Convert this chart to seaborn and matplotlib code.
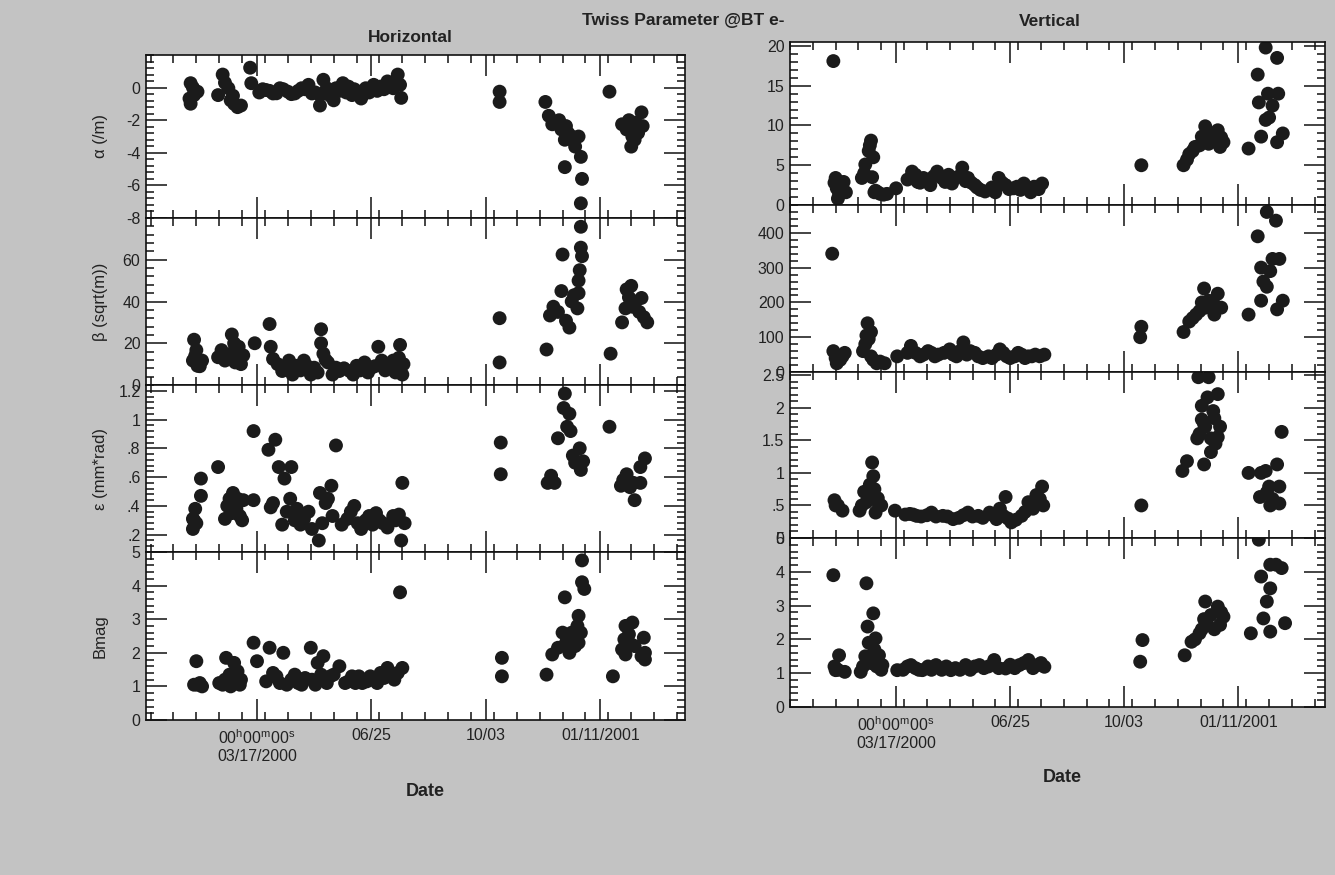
import matplotlib
matplotlib.use("Agg")
import numpy as np
import pandas as pd
import matplotlib.pyplot as plt
import matplotlib.dates as mdates
from matplotlib.ticker import FixedLocator, FixedFormatter, MultipleLocator
import seaborn as sns

# ---------------- data (days after 03/17/2000, value) ----------------
BASE_DATE = "2000-03-17"

h_alpha_day = [-58, -59, -52, -58, -55, -30, -34, -25, -23, -17, -20, -14, -6, -5,
               8, 14, 20, 27, 33, 39, 45, 48, 55, 55, 58, 61, 67, 69, 75,
               80, 83, 88, 91, 95, 102, 108, 114, 119, 123, 125, 126,
               212, 212, 252, 255, 258, 266, 270, 269, 275, 278, 281, 283, 269, 284, 283,
               308, 319, 323, 328, 327, 331, 336, 337, 333,
               2, 5, 11, 17, 23, 30, 36, 42, 51, 64, 72, 78, 85, 98, 105, 111, 117, 121,
               -56, -28, -21, 272, 277, 264, 330, 325, 334]
h_alpha_val = [0.27, -0.67, -0.25, -0.99, -0.46, 0.8, -0.46, -0.04, -0.78, -1.2, -1.0, -1.1, 1.22, 0.27,
               -0.15, -0.36, -0.04, -0.25, -0.36, -0.04, 0.17, -0.36, -1.1, -0.46, 0.48, -0.04, -0.78, -0.04, 0.27,
               0.06, -0.46, -0.25, -0.67, -0.04, 0.17, 0.06, 0.38, -0.04, 0.8, 0.17, -0.63,
               -0.25, -0.88, -0.88, -1.73, -2.25, -2.57, -2.36, -3.2, -3.0, -3.62, -3.0, -4.25, -4.88, -5.6, -7.1,
               -0.25, -2.25, -2.57, -3.0, -3.62, -2.15, -1.52, -2.36, -2.78,
               -0.3, -0.1, -0.2, -0.35, -0.1, -0.4, -0.2, -0.1, -0.3, -0.5, -0.2, -0.3, -0.1, -0.3, -0.2, -0.1, 0.1, 0.4,
               0.0, 0.3, -0.5, -2.8, -3.3, -2.0, -3.2, -2.0, -2.5]

h_beta_day = [-55, -53, -56, -52, -48, -31, -34, -22, -23, -16, -28, -19, -12, -2, 11, 12, 14,
              22, 28, 34, 41, 47, 50, 56, 56, 58, 62, 69, 72, 81, 87, 94, 100, 106, 109, 116, 119, 125, 127, 128,
              212, 212, 253, 256, 259, 267, 266, 270, 273, 275, 280, 281, 281, 283, 283, 284,
              309, 319, 322, 327, 323, 331, 336, 338, 341, 328,
              18, 25, 31, 38, 44, 53, 60, 66, 76, 84, 90, 97, 103, 112, 121, 124,
              -54, -50, -26, -20, -14, 263, 277, 282, 325, 334]
h_beta_val = [21.7, 16.7, 11.7, 9.2, 11.7, 16.7, 13.3, 24.2, 15, 18.3, 11.7, 10.8, 14.2, 20, 29.2, 18.3, 12.5,
              6.7, 11.7, 9.2, 11.7, 5, 8.3, 26.7, 20, 15, 10.8, 8.3, 6.7, 6.7, 9.2, 10.8, 8.3, 18.3, 11.7, 9.2, 11.7, 19.2, 5, 10,
              32, 10.8, 17, 33.3, 37.5, 62.5, 45, 30.8, 27.5, 40, 36.7, 50, 44, 75.8, 65.8, 61.7,
              15, 30, 36.7, 47.5, 45.8, 40, 41.7, 32.5, 30, 37.5,
              10, 8, 5, 7, 9, 6, 12, 5, 8, 5, 7, 6, 9, 7, 6, 13,
              14, 9, 13, 20, 10, 35, 43, 55, 42, 35]

h_emit_day = [-56, -56, -54, -53, -49, -49, -34, -28, -24, -21, -18, -15, -12, -3, -3,
              10, 16, 12, 19, 30, 24, 22, 29, 35, 41, 48, 54, 55, 65, 62, 69, 66,
              79, 85, 91, 98, 104, 110, 119, 124, 129, 127, 126,
              213, 213, 254, 257, 260, 269, 268, 273, 263, 274, 276, 282, 285, 283,
              308, 318, 323, 329, 330, 335, 335, 339,
              -55, -26, -22, -17, -13, 14, 26, 33, 38, 45, 57, 60, 74, 82, 88, 95, 101, 107, 114, 121,
              271, 278, 320, 326]
h_emit_val = [0.24, 0.31, 0.38, 0.28, 0.59, 0.47, 0.67, 0.31, 0.45, 0.49, 0.38, 0.33, 0.44, 0.92, 0.44,
              0.79, 0.86, 0.39, 0.67, 0.67, 0.59, 0.27, 0.45, 0.38, 0.31, 0.24, 0.16, 0.49, 0.54, 0.45, 0.82, 0.33,
              0.31, 0.40, 0.24, 0.33, 0.35, 0.28, 0.33, 0.34, 0.28, 0.56, 0.16,
              0.84, 0.62, 0.56, 0.61, 0.56, 1.18, 1.08, 1.04, 0.87, 0.92, 0.75, 0.80, 0.71, 0.65,
              0.95, 0.54, 0.62, 0.56, 0.44, 0.56, 0.67, 0.73,
              0.30, 0.40, 0.35, 0.45, 0.30, 0.42, 0.36, 0.30, 0.27, 0.36, 0.28, 0.42, 0.27, 0.36, 0.28, 0.30, 0.27, 0.30, 0.25, 0.30,
              0.95, 0.70, 0.58, 0.53]

h_bmag_day = [-53, -55, -48, -50, -33, -28, -27, -20, -17, -14, -23, -3, 0,
              11, 23, 14, 20, 30, 39, 47, 58, 53, 72, 48, 64, 77, 83, 92, 102, 108, 114, 120, 125, 127,
              214, 214, 253, 258, 263, 267, 269, 273, 277, 280, 281, 281, 284, 284, 286,
              311, 319, 322, 325, 322, 328, 327, 338, 339, 339,
              -52, -30, -24, -19, -15, 8, 17, 26, 33, 36, 42, 51, 56, 61, 67, 80, 86, 89, 96, 99,
              105, 111, 117, 123, 270, 275, 278, 283, 321, 330, 336]
h_bmag_val = [1.75, 1.05, 1.0, 1.1, 1.1, 1.2, 1.85, 1.7, 1.45, 1.2, 1.0, 2.3, 1.75,
              2.15, 2.0, 1.4, 1.1, 1.2, 1.05, 2.15, 1.9, 1.7, 1.6, 1.2, 1.3, 1.1, 1.3, 1.1, 1.2, 1.4, 1.55, 1.2, 3.8, 1.55,
              1.85, 1.3, 1.35, 1.95, 2.15, 2.6, 3.65, 2.0, 2.4, 2.8, 3.1, 2.3, 4.1, 4.75, 3.9,
              1.3, 2.1, 1.95, 2.55, 2.8, 2.9, 2.25, 2.45, 2.0, 1.8,
              1.05, 1.05, 1.35, 1.25, 1.05, 1.15, 1.3, 1.05, 1.35, 1.1, 1.25, 1.05, 1.35, 1.1, 1.35, 1.15, 1.1, 1.3, 1.15, 1.3,
              1.1, 1.25, 1.35, 1.4, 2.3, 2.6, 2.2, 2.6, 2.4, 2.2, 1.9]

v_alpha_day = [-55, -53, -52, -51, -46, -44, -30, -27, -24, -22, -20, -19, -14, -8, 0,
               14, 19, 24, 30, 36, 43, 52, 58, 63, 69, 74, 87, 90, 96, 103, 112, 118, 128,
               215, 252, 257, 262, 268, 271, 274, 282, 287, 284,
               309, 317, 318, 320, 324, 324, 334, 326, 335, 334, 339,
               -54, -50, -28, -23, -21, -18, -16, -11, 10, 17, 21, 27, 33, 40, 46, 49, 55, 61, 66, 71,
               78, 84, 93, 99, 106, 109, 115, 121, 125, 255, 260, 266, 276, 279, 285, 330, 327]
v_alpha_val = [18.1, 3.4, 2.1, 0.8, 2.9, 1.6, 3.4, 5.1, 6.8, 8.1, 6.0, 1.6, 1.4, 1.4, 2.1,
               4.2, 2.9, 3.4, 2.5, 4.2, 2.9, 3.4, 4.7, 3.4, 2.5, 1.9, 1.6, 3.4, 2.5, 2.1, 2.7, 1.6, 2.7,
               5.0, 5.0, 6.4, 7.3, 8.6, 9.9, 7.7, 9.4, 7.9, 7.3,
               7.1, 16.4, 12.9, 8.6, 10.7, 19.8, 18.5, 14.0, 14.0, 7.9, 9.0,
               2.8, 1.5, 4.0, 7.5, 3.5, 1.8, 1.6, 1.3, 3.2, 3.8, 2.8, 3.0, 3.6, 3.4, 3.8, 2.7, 3.6, 3.0, 2.8, 2.2,
               1.7, 2.2, 2.8, 2.0, 2.3, 1.9, 2.2, 2.3, 2.0, 5.7, 6.8, 7.5, 8.8, 8.2, 8.5, 12.5, 11.0]

v_beta_day = [-56, -55, -52, -47, -45, -29, -26, -25, -22, -22, -17, -10, 1,
              13, 21, 28, 37, 47, 53, 59, 65, 72, 84, 91, 97, 107, 116, 122, 130,
              215, 214, 252, 257, 263, 270, 271, 274, 282, 285, 279,
              309, 317, 320, 320, 325, 325, 333, 330, 336, 334, 339,
              -53, -49, -27, -24, -20, -14, 10, 17, 24, 31, 34, 42, 50, 56, 62, 69, 76, 81, 88, 94,
              100, 104, 110, 113, 119, 126, 260, 266, 268, 277, 280, 328, 322]
v_beta_val = [340, 60, 25, 45, 55, 60, 105, 140, 115, 45, 25, 25, 45,
              75, 45, 60, 50, 65, 45, 85, 60, 45, 40, 65, 45, 55, 45, 50, 50,
              130, 100, 115, 145, 165, 240, 185, 205, 225, 185, 165,
              165, 390, 205, 300, 245, 460, 435, 325, 325, 180, 205,
              40, 35, 80, 95, 35, 30, 55, 55, 50, 55, 45, 55, 50, 60, 50, 55, 40, 45, 50, 55,
              40, 45, 50, 40, 45, 45, 155, 175, 200, 200, 190, 290, 260]

v_emit_day = [-53, -54, -47, -32, -28, -21, -20, -23, -16, -13, -18, -1,
              12, 18, 31, 41, 50, 63, 72, 82, 88, 96, 94, 101, 110, 116, 123, 128, 129,
              215, 251, 255, 265, 274, 268, 273, 282, 268, 279, 271, 284, 264, 276, 282, 276, 270,
              309, 320, 324, 319, 327, 328, 334, 336, 336, 338,
              -51, -30, -26, -24, -19, -15, 8, 15, 22, 27, 35, 45, 55, 59, 67, 76, 85, 91, 98, 105,
              113, 120, 126, 266, 270, 278, 280, 325, 330]
v_emit_val = [0.5, 0.58, 0.42, 0.42, 0.71, 1.16, 0.95, 0.82, 0.61, 0.5, 0.39, 0.42,
              0.37, 0.34, 0.39, 0.34, 0.29, 0.39, 0.34, 0.39, 0.29, 0.63, 0.34, 0.24, 0.34, 0.55, 0.66, 0.79, 0.5,
              0.5, 1.03, 1.18, 2.47, 2.47, 2.03, 2.16, 2.21, 1.82, 1.84, 1.71, 1.71, 1.53, 1.53, 1.55, 1.32, 1.13,
              1.0, 1.0, 1.03, 0.63, 0.79, 0.5, 1.13, 0.79, 0.53, 1.63,
              0.5, 0.5, 0.55, 0.6, 0.75, 0.5, 0.36, 0.36, 0.33, 0.35, 0.33, 0.33, 0.31, 0.35, 0.33, 0.31, 0.35, 0.45, 0.3, 0.28,
              0.4, 0.45, 0.6, 1.6, 1.75, 1.95, 1.45, 0.7, 0.6]

v_bmag_day = [-55, -53, -50, -45, -31, -26, -25, -20, -18, -15, -23, -12,
              1, 13, 23, 35, 48, 61, 73, 86, 96, 108, 116, 124, 130,
              216, 214, 253, 259, 266, 271, 273, 276, 282, 284, 287,
              311, 318, 320, 322, 325, 328, 328, 333, 338, 328, 341,
              -54, -51, -29, -27, -24, -22, -19, -17, -13, 6, 10, 17, 20, 28, 31, 40, 44, 52, 56, 65,
              69, 77, 81, 90, 100, 104, 112, 120, 127, 262, 268, 270, 279, 285]
v_bmag_val = [3.9, 1.09, 1.53, 1.04, 1.04, 3.66, 2.38, 2.77, 2.03, 1.53, 1.44, 1.24,
              1.09, 1.24, 1.09, 1.24, 1.09, 1.24, 1.24, 1.39, 1.14, 1.24, 1.39, 1.24, 1.19,
              1.98, 1.34, 1.53, 1.93, 2.18, 3.12, 2.43, 2.72, 2.97, 2.43, 2.67,
              2.18, 4.95, 3.86, 2.62, 3.12, 3.51, 4.21, 4.21, 4.11, 2.23, 2.48,
              1.2, 1.1, 1.2, 1.5, 1.9, 1.3, 1.7, 1.2, 1.1, 1.1, 1.2, 1.15, 1.1, 1.2, 1.1, 1.1, 1.2, 1.15, 1.1, 1.1,
              1.2, 1.15, 1.2, 1.15, 1.25, 1.15, 1.3, 1.15, 1.3, 2.0, 2.3, 2.6, 2.3, 2.8]

# x ticks (days after base) and their labels
x_major_days = [-100, 0, 100, 200, 300]
x_major_labels = ["", "00$^{\\rm h}$00$^{\\rm m}$00$^{\\rm s}$\n03/17/2000", "06/25", "10/03", "01/11/2001"]

panel_ylabels = ["α (/m)", "β (sqrt(m))", "ε (mm*rad)", "Bmag"]

# ---------------- styling ----------------
sns.set_theme(style="ticks")
plt.rcParams["font.family"] = ["Liberation Sans", "DejaVu Sans"]
plt.rcParams["mathtext.fontset"] = "custom"
plt.rcParams["mathtext.rm"] = "Liberation Sans"

BG = "#c3c3c3"
DOT = "#1b1b1b"
fig = plt.figure(figsize=(13.35, 8.75), dpi=100, facecolor=BG)
W, H = 1335.0, 875.0

base = mdates.date2num(pd.Timestamp(BASE_DATE))


def rect(l, t, r, b):
    return [l / W, 1 - b / H, (r - l) / W, (b - t) / H]


left_x = (146, 685)
right_x = (790, 1325)
left_y = [55, 218, 385, 552, 720]
right_y = [42, 205, 372, 538, 707]

h_sets = [(h_alpha_day, h_alpha_val), (h_beta_day, h_beta_val),
          (h_emit_day, h_emit_val), (h_bmag_day, h_bmag_val)]
v_sets = [(v_alpha_day, v_alpha_val), (v_beta_day, v_beta_val),
          (v_emit_day, v_emit_val), (v_bmag_day, v_bmag_val)]

h_ylims = [(-8, 2), (0, 80), (0.08, 1.24), (0, 5)]
h_major = [[-8, -6, -4, -2, 0], [0, 20, 40, 60], [0.2, 0.4, 0.6, 0.8, 1.0, 1.2], [0, 1, 2, 3, 4, 5]]
h_major_lbl = [["-8", "-6", "-4", "-2", "0"], ["0", "20", "40", "60"],
               [".2", ".4", ".6", ".8", "1", "1.2"], ["0", "1", "2", "3", "4", "5"]]
h_minor = [0.4, 4, 0.04, 0.2]

v_ylims = [(0, 20.5), (0, 480), (0, 2.55), (0, 5)]
v_major = [[0, 5, 10, 15, 20], [0, 100, 200, 300, 400], [0, 0.5, 1, 1.5, 2, 2.5], [0, 1, 2, 3, 4, 5]]
v_major_lbl = [["0", "5", "10", "15", "20"], ["0", "100", "200", "300", "400"],
               ["0", ".5", "1", "1.5", "2", "2.5"], ["0", "1", "2", "3", "4", "5"]]
v_minor = [1, 20, 0.1, 0.2]


def draw_column(xpx, ypx, sets, ylims, majors, major_lbls, minors, xlim_days):
    axes = []
    for i in range(4):
        ax = fig.add_axes(rect(xpx[0], ypx[i], xpx[1], ypx[i + 1]))
        ax.set_facecolor("white")
        days, vals = sets[i]
        df = pd.DataFrame({"date": base + np.asarray(days, dtype=float), "value": vals})
        sns.scatterplot(data=df, x="date", y="value", ax=ax, color=DOT, s=100,
                        edgecolor="none", linewidth=0, legend=False)
        ax.set_xlim(base + xlim_days[0], base + xlim_days[1])
        ax.set_ylim(*ylims[i])
        ax.yaxis.set_major_locator(FixedLocator(majors[i]))
        ax.yaxis.set_major_formatter(FixedFormatter(major_lbls[i]))
        ax.yaxis.set_minor_locator(MultipleLocator(minors[i]))
        ax.xaxis.set_major_locator(FixedLocator([base + d for d in x_major_days]))
        ax.xaxis.set_minor_locator(MultipleLocator(20))
        if i == 3:
            ax.xaxis.set_major_formatter(FixedFormatter(x_major_labels))
        else:
            ax.xaxis.set_major_formatter(FixedFormatter([""] * len(x_major_days)))
        ax.set_xlabel("")
        ax.set_ylabel("")
        ax.tick_params(which="both", direction="in", top=True, right=True,
                       color="#111111", width=1.1)
        ax.tick_params(which="major", length=15, labelsize=11.5, labelcolor="#222222", pad=4)
        ax.tick_params(which="minor", length=6)
        ax.tick_params(axis="x", which="major", pad=6)
        for s in ax.spines.values():
            s.set_color("#111111")
            s.set_linewidth(1.2)
        axes.append(ax)
    return axes


draw_column(left_x, left_y, h_sets, h_ylims, h_major, h_major_lbl, h_minor, (-97, 374))
draw_column(right_x, right_y, v_sets, v_ylims, v_major, v_major_lbl, v_minor, (-93, 376))

# y labels (left column only)
for i, lab in enumerate(panel_ylabels):
    yc = (left_y[i] + left_y[i + 1]) / 2
    fig.text(100 / W, 1 - yc / H, lab, rotation=90, ha="center", va="center",
             fontsize=12, color="#222222")

# titles
fig.text(683 / W, 1 - 20 / H, "Twiss Parameter @BT e-", ha="center", va="center",
         fontsize=12.5, fontweight="bold", color="#222222")
fig.text(410 / W, 1 - 37 / H, "Horizontal", ha="center", va="center",
         fontsize=12.5, fontweight="bold", color="#222222")
fig.text(1050 / W, 1 - 22 / H, "Vertical", ha="center", va="center",
         fontsize=12.5, fontweight="bold", color="#222222")
fig.text(425 / W, 1 - 792 / H, "Date", ha="center", va="center",
         fontsize=13, fontweight="bold", color="#222222")
fig.text(1062 / W, 1 - 778 / H, "Date", ha="center", va="center",
         fontsize=13, fontweight="bold", color="#222222")

fig.savefig("out.png", dpi=100, facecolor=BG)
